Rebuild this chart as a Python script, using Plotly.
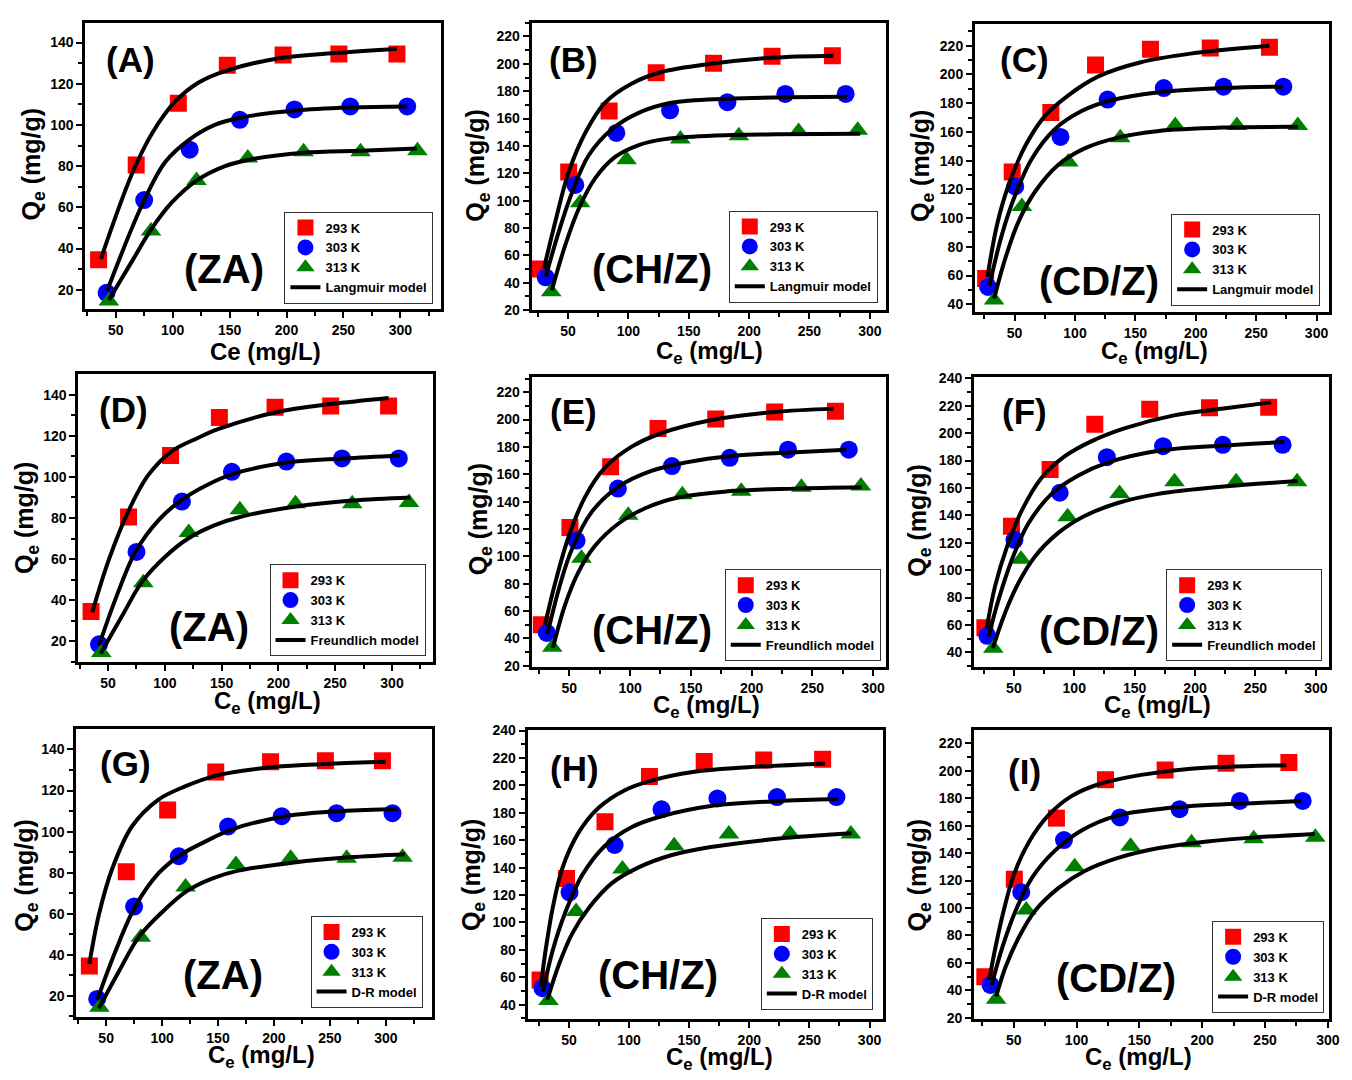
import plotly.graph_objects as go

W, H = 1352, 1080
FONT = "Liberation Sans, Arial, sans-serif"

TEMPS = ["293 K", "303 K", "313 K"]

# ---- Experimental equilibrium data: Ce (mg/L), Qe (mg/g) ----
ZA_CE_293 = [35, 68, 105, 148, 197, 246, 297]
ZA_QE_293 = [34.5, 80.5, 110.5, 129, 134, 134.5, 134.5]
ZA_CE_303 = [42, 75, 115, 159, 207, 256, 306]
ZA_QE_303 = [18.5, 63.5, 88, 102.5, 107.5, 109, 109]
ZA_CE_313 = [44, 81, 121, 166, 215, 265, 315]
ZA_QE_313 = [14.5, 48.5, 73, 84, 87, 87, 87.5]

CH_CE_293 = [27, 50.5, 84, 123, 170.5, 219, 269]
CH_QE_293 = [50, 121, 165.5, 193.5, 200.5, 205.5, 206]
CH_CE_303 = [31.5, 56, 90, 134.5, 182, 230, 280]
CH_QE_303 = [44, 111.5, 149.5, 166, 172, 178, 178]
CH_CE_313 = [36, 60, 98.5, 143, 191.5, 241, 290]
CH_QE_313 = [33.5, 98.5, 130, 145, 147.5, 150.5, 151.5]

CD_CE_293 = [26, 48, 80, 117, 162.5, 212, 261]
CD_QE_293 = [58, 132, 173.5, 206.5, 217.5, 218.5, 219]
CD_CE_303 = [28, 50.5, 88, 127, 173.5, 223, 272.5]
CD_QE_303 = [52, 122, 156.5, 182.5, 190.5, 191.5, 191.5]
CD_CE_313 = [33, 56, 94.5, 137.5, 183, 234, 284.5]
CD_QE_313 = [43, 108, 139, 156, 164.5, 164.5, 164.5]

# ---- Fitted isotherm curves ----
# Langmuir
LANG_ZA_293_C = [37, 64.5, 82, 102.5, 122.5, 148, 195, 246, 297]
LANG_ZA_293_Q = [35, 76.5, 96, 111.5, 120.5, 126.5, 132.5, 135, 137]
LANG_ZA_303_C = [42.5, 73, 93.5, 115, 137, 159, 207, 256, 306]
LANG_ZA_303_Q = [19.5, 61, 82, 93, 100, 103.5, 107, 108.5, 109]
LANG_ZA_313_C = [44, 64.5, 82, 99.5, 121, 146, 166, 215, 265, 314.5]
LANG_ZA_313_Q = [15, 34, 50, 62.5, 73, 80, 83, 86.5, 87.5, 88.5]

LANG_CH_293_C = [30, 39.5, 50.5, 64.5, 80.5, 102.5, 127.5, 168.5, 219, 270]
LANG_CH_293_Q = [50.5, 85, 121, 150, 171.5, 185.5, 194, 200, 204.5, 206]
LANG_CH_303_C = [31.5, 42.5, 53.5, 67, 86, 108, 135.5, 182, 231.5, 281]
LANG_CH_303_Q = [44.5, 78, 106.5, 133, 152, 164, 171.5, 174.5, 175.5, 176]
LANG_CH_313_C = [36.5, 48, 59, 72.5, 89, 108, 130, 168.5, 223, 292]
LANG_CH_313_Q = [34.5, 68.5, 94.5, 116.5, 132, 140.5, 145, 147.5, 148.5, 149]

LANG_CD_293_C = [27.5, 35.5, 45, 59, 75, 94.5, 119, 154.5, 195.5, 261]
LANG_CD_293_Q = [59, 95.5, 123, 150.5, 171, 185.5, 198.5, 208.5, 214.5, 220]
LANG_CD_303_C = [29, 39.5, 50.5, 64, 83.5, 105.5, 130, 168, 223, 272]
LANG_CD_303_Q = [52.5, 88.5, 116, 141, 162, 174.5, 182, 187.5, 190.5, 191.5]
LANG_CD_313_C = [33, 42.5, 53.5, 67, 86, 108, 135.5, 168, 223, 284.5]
LANG_CD_313_Q = [44, 72.5, 98, 118.5, 137, 148.5, 156, 160.5, 163, 163.5]

# Freundlich
FR_ZA_293_C = [36, 50.5, 68, 85.5, 106, 129, 148, 198, 246, 297]
FR_ZA_293_Q = [34, 59.5, 83.5, 101, 112.5, 119, 123.5, 131.5, 135.5, 138.5]
FR_ZA_303_C = [42, 56.5, 74, 94.5, 114, 135, 160, 208, 257.5, 307]
FR_ZA_303_Q = [18, 40.5, 63.5, 79, 88.5, 95.5, 101.5, 107, 109, 110.5]
FR_ZA_313_C = [43.5, 62.5, 80, 100, 120.5, 144, 166, 214, 265, 316]
FR_ZA_313_Q = [14, 32.5, 49, 61, 70, 76.5, 80.5, 85.5, 88.5, 90]

FR_CH_293_C = [30, 38.5, 49.5, 63, 79.5, 101, 125.5, 166.5, 218.5, 267.5]
FR_CH_293_Q = [50, 81, 114.5, 143.5, 165, 180, 190, 199.5, 205.5, 208]
FR_CH_303_C = [32, 41.5, 52, 68.5, 90.5, 117.5, 145, 185.5, 232, 278]
FR_CH_303_Q = [43, 76.5, 105, 132.5, 151, 162.5, 168.5, 173.5, 176, 178]
FR_CH_313_C = [36.5, 46.5, 57.5, 71, 90.5, 112, 139.5, 180, 234.5, 290.5]
FR_CH_313_Q = [33, 64.5, 88.5, 107.5, 124, 135, 143, 147.5, 149.5, 150.5]

FR_CD_293_C = [27.5, 34.5, 44.5, 56.5, 73, 92, 114, 141.5, 182.5, 223.5, 263]
FR_CD_293_Q = [57.5, 88.5, 117.5, 143.5, 167.5, 183, 194, 203.5, 213, 218, 222.5]
FR_CD_303_C = [29, 37.5, 48.5, 62, 81, 103, 127.5, 168.5, 223.5, 274]
FR_CD_303_Q = [51.5, 79, 108, 134, 155.5, 169, 178.5, 187, 191, 193.5]
FR_CD_313_C = [32.5, 43, 54, 67.5, 86.5, 108.5, 136, 168.5, 223.5, 285]
FR_CD_313_Q = [43, 69.5, 91, 110, 127, 139.5, 149, 155.5, 161, 165]

# Dubinin-Radushkevich
DR_ZA_293_C = [35, 43.5, 55.5, 73, 96.5, 120.5, 150, 200, 250.5, 300]
DR_ZA_293_Q = [35.5, 59.5, 82, 102.5, 115.5, 122, 127.5, 131.5, 133, 134]
DR_ZA_303_C = [42, 58.5, 76, 96.5, 116, 138, 162, 210.5, 261, 311]
DR_ZA_303_Q = [18, 42, 63.5, 79.5, 88.5, 95, 101, 107.5, 110, 111]
DR_ZA_313_C = [43.5, 61, 79, 99.5, 122, 144, 168, 218, 268, 317]
DR_ZA_313_Q = [14, 31.5, 48.5, 60.5, 71, 77, 81, 85, 87.5, 89]

DR_CD_293_C = [26.5, 31, 36.5, 44.5, 58, 74.5, 96.5, 118.5, 154.5, 195.5, 263]
DR_CD_293_Q = [53, 82, 110.5, 139.5, 165.5, 183.5, 196.5, 203.5, 210, 213, 216]
DR_CD_303_C = [28.5, 36.5, 47.5, 61, 80, 102, 127, 168, 223, 274]
DR_CD_303_Q = [49.5, 79.5, 108.5, 134.5, 156, 169.5, 177.5, 185, 188.5, 190]
DR_CD_313_C = [32, 42, 52.5, 66.5, 85.5, 107.5, 135, 168, 223, 285]
DR_CD_313_Q = [43.5, 70, 91.5, 110.5, 128.5, 140, 149, 155, 161, 165]

DR_CH_293_C = [30.5, 35.5, 42, 50, 62, 77.5, 96, 117, 151.5, 191, 267]
DR_CH_293_Q = [47.5, 71.5, 98, 124, 148, 167.5, 181.5, 190, 197, 201.5, 204]
DR_CH_303_C = [32.5, 41, 51.5, 64.5, 83, 104, 133, 169.5, 204, 243.5, 279]
DR_CH_303_Q = [44, 71.5, 98, 122, 142, 156.5, 167.5, 172.5, 175, 176.5, 178]
DR_CH_313_C = [36, 43.5, 54, 67, 85.5, 106.5, 133, 164.5, 204, 243.5, 289.5]
DR_CH_313_Q = [35.5, 57, 78.5, 98, 114.5, 127, 136.5, 143.5, 148.5, 151.5, 154]

EXP = {
    "ZA": [(ZA_CE_293, ZA_QE_293), (ZA_CE_303, ZA_QE_303), (ZA_CE_313, ZA_QE_313)],
    "CH": [(CH_CE_293, CH_QE_293), (CH_CE_303, CH_QE_303), (CH_CE_313, CH_QE_313)],
    "CD": [(CD_CE_293, CD_QE_293), (CD_CE_303, CD_QE_303), (CD_CE_313, CD_QE_313)],
}

MARKERS = [
    dict(symbol="square", size=17, color="#FF0000"),
    dict(symbol="circle", size=18, color="#0000FF"),
    dict(symbol="triangle-up", size=18, color="#008000"),
]

# Panel layout in pixels: frame (left, right, top, bottom)
PANELS = [
    dict(tag="(A)", mat="(ZA)", data="ZA", model="Langmuir model",
         fits=[(LANG_ZA_293_C, LANG_ZA_293_Q), (LANG_ZA_303_C, LANG_ZA_303_Q), (LANG_ZA_313_C, LANG_ZA_313_Q)],
         frame=(86, 445, 15, 306), xr=[23.3, 336], yr=[10.4, 149.6],
         tagpos=(132, 52), matpos=(226, 265), xt="Ce (mg/L)", xtpos=(268, 349), ytpos=(33, 158),
         leg=(437, 300)),
    dict(tag="(B)", mat="(CH/Z)", data="CH", model="Langmuir model",
         fits=[(LANG_CH_293_C, LANG_CH_293_Q), (LANG_CH_303_C, LANG_CH_303_Q), (LANG_CH_313_C, LANG_CH_313_Q)],
         frame=(536, 893, 15, 307), xr=[19.8, 313.2], yr=[19.8, 230],
         tagpos=(578, 52), matpos=(657, 265), xt="C<sub>e</sub> (mg/L)", xtpos=(715, 350), ytpos=(481, 160),
         leg=(885, 299)),
    dict(tag="(C)", mat="(CD/Z)", data="CD", model="Langmuir model",
         fits=[(LANG_CD_293_C, LANG_CD_293_Q), (LANG_CD_303_C, LANG_CD_303_Q), (LANG_CD_313_C, LANG_CD_313_Q)],
         frame=(983, 1340, 16, 309), xr=[17.2, 310.4], yr=[34.3, 235.3],
         tagpos=(1033, 52), matpos=(1108, 277), xt="C<sub>e</sub> (mg/L)", xtpos=(1164, 350), ytpos=(929, 160),
         leg=(1331, 302)),
    dict(tag="(D)", mat="(ZA)", data="ZA", model="Freundlich model",
         fits=[(FR_ZA_293_C, FR_ZA_293_Q), (FR_ZA_303_C, FR_ZA_303_Q), (FR_ZA_313_C, FR_ZA_313_Q)],
         frame=(79, 437, 372, 664), xr=[23.8, 336.5], yr=[9.8, 149.9],
         tagpos=(125, 408), matpos=(211, 628), xt="C<sub>e</sub> (mg/L)", xtpos=(270, 705), ytpos=(27, 517),
         leg=(429, 658)),
    dict(tag="(E)", mat="(CH/Z)", data="CH", model="Freundlich model",
         fits=[(FR_CH_293_C, FR_CH_293_Q), (FR_CH_303_C, FR_CH_303_Q), (FR_CH_313_C, FR_CH_313_Q)],
         frame=(536, 893, 375, 669), xr=[19, 310.4], yr=[19, 230.8],
         tagpos=(578, 410), matpos=(657, 631), xt="C<sub>e</sub> (mg/L)", xtpos=(712, 709), ytpos=(484, 519),
         leg=(888, 663)),
    dict(tag="(F)", mat="(CD/Z)", data="CD", model="Freundlich model",
         fits=[(FR_CD_293_C, FR_CD_293_Q), (FR_CD_303_C, FR_CD_303_Q), (FR_CD_313_C, FR_CD_313_Q)],
         frame=(982, 1340, 375, 669), xr=[17, 311], yr=[29.2, 240.7],
         tagpos=(1033, 410), matpos=(1108, 632), xt="C<sub>e</sub> (mg/L)", xtpos=(1167, 709), ytpos=(927, 520),
         leg=(1333, 663)),
    dict(tag="(G)", mat="(ZA)", data="ZA", model="D-R model",
         fits=[(DR_ZA_293_C, DR_ZA_293_Q), (DR_ZA_303_C, DR_ZA_303_Q), (DR_ZA_313_C, DR_ZA_313_Q)],
         frame=(77, 436, 732, 1024), xr=[23.4, 341.7], yr=[9.8, 149.9],
         tagpos=(127, 767), matpos=(225, 982), xt="C<sub>e</sub> (mg/L)", xtpos=(264, 1064), ytpos=(26, 880),
         leg=(426, 1015)),
    dict(tag="(H)", mat="(CH/Z)", data="CD", model="D-R model",
         fits=[(DR_CD_293_C, DR_CD_293_Q), (DR_CD_303_C, DR_CD_303_Q), (DR_CD_313_C, DR_CD_313_Q)],
         frame=(532, 890, 733, 1026), xr=[15.7, 311], yr=[29.7, 240.3],
         tagpos=(579, 772), matpos=(663, 982), xt="C<sub>e</sub> (mg/L)", xtpos=(725, 1066), ytpos=(477, 880),
         leg=(880, 1017)),
    dict(tag="(I)", mat="(CD/Z)", data="CH", model="D-R model",
         fits=[(DR_CH_293_C, DR_CH_293_Q), (DR_CH_303_C, DR_CH_303_Q), (DR_CH_313_C, DR_CH_313_Q)],
         frame=(982, 1340, 733, 1026), xr=[18.4, 301], yr=[19.3, 229.6],
         tagpos=(1033, 775), matpos=(1125, 985), xt="C<sub>e</sub> (mg/L)", xtpos=(1148, 1066), ytpos=(926, 880),
         leg=(1335, 1020)),
]


def px(x):
    return x / W


def py(y):
    return 1 - y / H


fig = go.Figure()
annotations = []
layout = dict(
    width=W, height=H, margin=dict(l=0, r=0, t=0, b=0),
    paper_bgcolor="white", plot_bgcolor="white",
    font=dict(family=FONT, color="black"),
)

tick_font = dict(family=FONT, size=14, color="black", weight="bold")
bold = dict(family=FONT, color="black", weight="bold")

for i, p in enumerate(PANELS, start=1):
    sfx = "" if i == 1 else str(i)
    xa, ya = "x" + sfx, "y" + sfx
    leg = "legend" + sfx

    for k, (ce, qe) in enumerate(EXP[p["data"]]):
        m = MARKERS[k]
        fig.add_trace(go.Scatter(
            x=ce, y=qe, mode="markers", name=TEMPS[k],
            marker=dict(symbol=m["symbol"], size=m["size"], color=m["color"], line=dict(width=0)),
            xaxis=xa, yaxis=ya, legend=leg, showlegend=True,
        ))
    for k, (cf, qf) in enumerate(p["fits"]):
        fig.add_trace(go.Scatter(
            x=cf, y=qf, mode="lines", name=p["model"],
            line=dict(color="black", width=4, shape="spline", smoothing=1.0),
            xaxis=xa, yaxis=ya, legend=leg, showlegend=(k == 0),
        ))

    l, r, t, b = p["frame"]
    common = dict(
        showline=True, linewidth=3, linecolor="black", mirror=True,
        ticks="outside", ticklen=6, tickwidth=2, tickcolor="black",
        showgrid=False, zeroline=False, tickfont=tick_font, tick0=0,
    )
    layout["xaxis" + sfx] = dict(
        common, domain=[px(l), px(r)], range=p["xr"], dtick=50, anchor=ya,
        minor=dict(ticks="outside", ticklen=4, tickwidth=2, tickcolor="black", dtick=25, showgrid=False),
    )
    layout["yaxis" + sfx] = dict(
        common, domain=[py(b), py(t)], range=p["yr"], dtick=20, anchor=xa,
        minor=dict(ticks="outside", ticklen=4, tickwidth=2, tickcolor="black", dtick=10, showgrid=False),
    )
    lx, lb = p["leg"]
    layout[leg] = dict(
        x=px(lx), y=py(lb), xanchor="right", yanchor="bottom",
        xref="paper", yref="paper",
        bgcolor="white", bordercolor="#333333", borderwidth=1,
        font=dict(family=FONT, size=13, color="black", weight="bold"),
        tracegroupgap=0, itemsizing="trace",
    )

    annotations.append(dict(text=p["tag"], x=px(p["tagpos"][0]), y=py(p["tagpos"][1]),
                            xref="paper", yref="paper", showarrow=False,
                            xanchor="center", yanchor="middle", font=dict(bold, size=35)))
    annotations.append(dict(text=p["mat"], x=px(p["matpos"][0]), y=py(p["matpos"][1]),
                            xref="paper", yref="paper", showarrow=False,
                            xanchor="center", yanchor="middle", font=dict(bold, size=40)))
    annotations.append(dict(text=p["xt"], x=px(p["xtpos"][0]), y=py(p["xtpos"][1]),
                            xref="paper", yref="paper", showarrow=False,
                            xanchor="center", yanchor="middle", font=dict(bold, size=24)))
    annotations.append(dict(text="Q<sub>e</sub> (mg/g)", x=px(p["ytpos"][0]), y=py(p["ytpos"][1]),
                            xref="paper", yref="paper", showarrow=False, textangle=-90,
                            xanchor="center", yanchor="middle", font=dict(bold, size=25)))

layout["annotations"] = annotations
fig.update_layout(**layout)
fig.write_html("out.html")
